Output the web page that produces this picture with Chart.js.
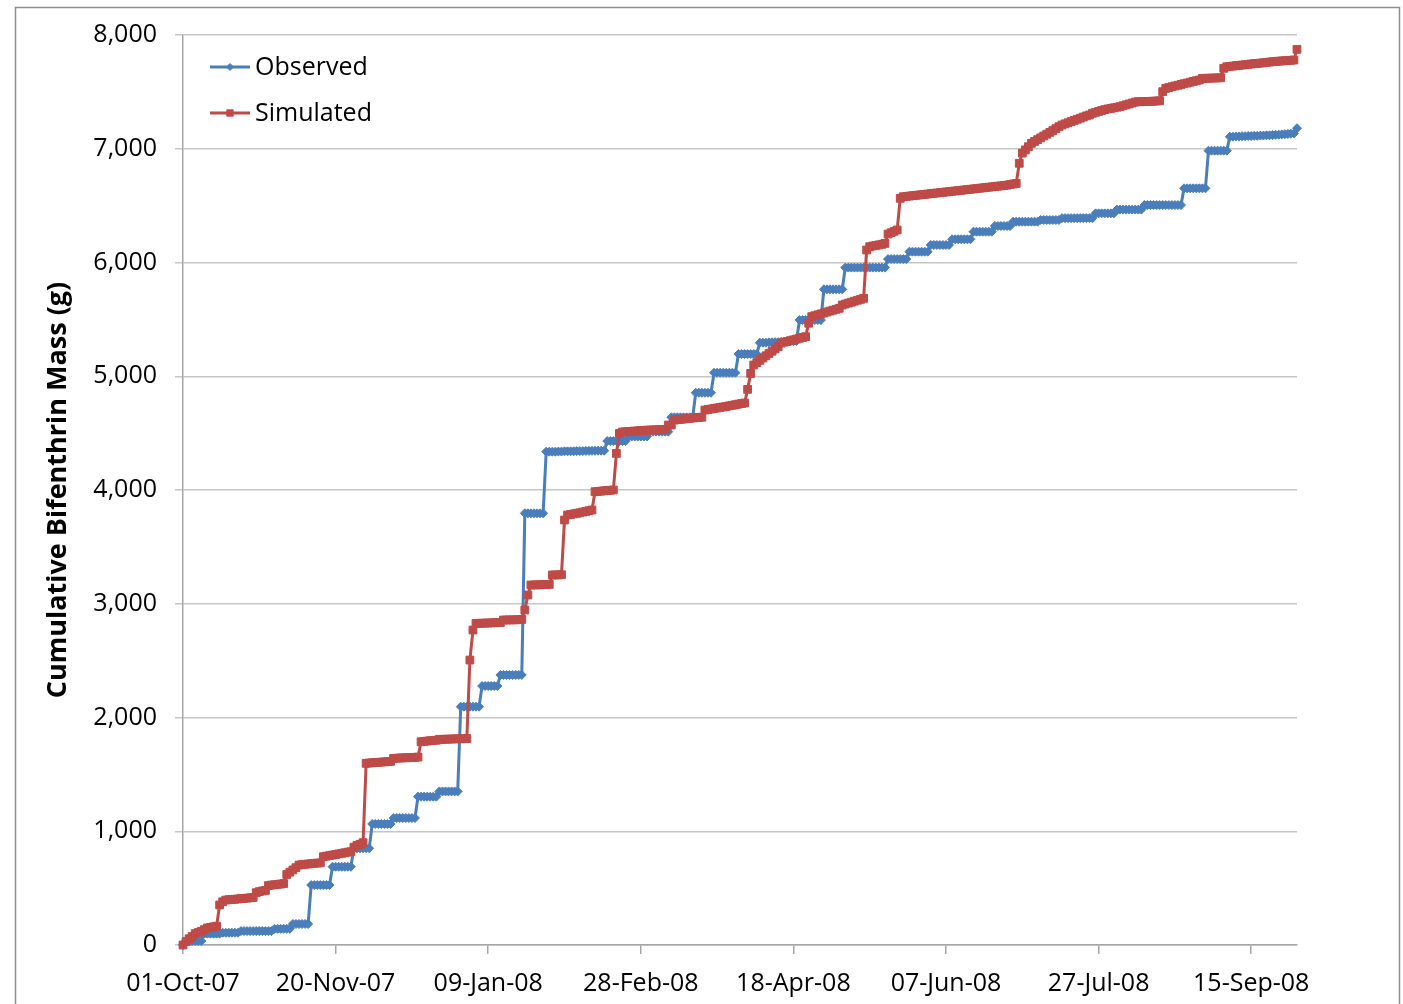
<!DOCTYPE html>
<html>
<head>
<meta charset="utf-8">
<script src="https://cdn.jsdelivr.net/npm/chart.js@4.4.1/dist/chart.umd.min.js"></script>
<style>
  html, body { margin: 0; padding: 0; background: #ffffff; }
  #wrap { width: 1403px; height: 1004px; }
</style>
</head>
<body>
<div id="wrap"><canvas id="c" width="1403" height="1004"></canvas></div>
<script>
// ---- Data (daily values, day 0 = 01-Oct-07) ----
const seriesNames = ['Observed', 'Simulated'];
const xTickLabels = ['01-Oct-07', '20-Nov-07', '09-Jan-08', '28-Feb-08', '18-Apr-08', '07-Jun-08', '27-Jul-08', '15-Sep-08'];
const yTickValues = [0, 1000, 2000, 3000, 4000, 5000, 6000, 7000, 8000];
const yAxisTitle = 'Cumulative Bifenthrin Mass (g)';

const observed = [
  0,35,35,35,35,35,35,100,100,100,
  100,100,100,108,108,108,108,108,108,122,
  122,122,122,122,122,122,122,122,122,122,
  142,142,142,142,142,142,185,185,185,185,
  185,185,527,527,527,527,527,527,527,688,
  688,688,688,688,688,688,850,850,850,850,
  850,850,1064,1064,1064,1064,1064,1064,1064,1116,
  1116,1116,1116,1116,1116,1116,1116,1304,1304,1304,
  1304,1304,1304,1304,1350,1350,1350,1350,1350,1350,
  1350,2095,2095,2095,2095,2095,2095,2095,2277,2277,
  2277,2277,2277,2277,2374,2374,2374,2374,2374,2374,
  2374,2374,3795,3795,3795,3795,3795,3795,3795,4337,
  4337,4337,4337,4338,4338,4340,4340,4340,4340,4342,
  4342,4342,4344,4344,4345,4345,4346,4346,4346,4430,
  4430,4430,4430,4430,4430,4430,4470,4470,4470,4470,
  4470,4470,4470,4513,4513,4513,4513,4513,4513,4513,
  4639,4639,4639,4639,4639,4639,4639,4639,4855,4855,
  4855,4855,4855,4855,5031,5031,5031,5031,5031,5031,
  5031,5031,5195,5195,5195,5195,5195,5195,5195,5295,
  5295,5295,5298,5298,5300,5300,5302,5305,5308,5308,
  5310,5310,5494,5494,5494,5494,5494,5494,5494,5494,
  5764,5764,5764,5764,5764,5764,5764,5955,5955,5955,
  5955,5955,5955,5955,5955,5955,5955,5955,5955,5955,
  5955,6030,6030,6030,6030,6030,6030,6030,6095,6095,
  6095,6095,6095,6095,6095,6154,6154,6154,6154,6154,
  6154,6154,6204,6204,6204,6204,6204,6204,6204,6271,
  6271,6271,6271,6271,6271,6271,6321,6321,6321,6321,
  6321,6321,6359,6359,6359,6359,6359,6359,6359,6359,
  6359,6374,6374,6374,6374,6374,6374,6374,6390,6390,
  6390,6390,6390,6390,6390,6390,6390,6390,6390,6432,
  6432,6432,6432,6432,6432,6432,6465,6465,6465,6465,
  6465,6465,6465,6465,6465,6505,6505,6505,6505,6505,
  6505,6505,6505,6505,6505,6505,6505,6505,6652,6652,
  6652,6652,6652,6652,6652,6652,6983,6983,6983,6983,
  6983,6983,6983,7106,7106,7108,7108,7110,7110,7112,
  7112,7114,7114,7116,7116,7118,7118,7120,7122,7124,
  7126,7128,7130,7132,7135,7180
];

const simulated = [
  0,30,55,75,100,110,120,135,150,155,
  160,165,352,380,395,398,400,402,405,408,
  410,412,415,418,460,469,475,480,522,527,
  530,533,536,540,620,640,660,680,703,706,
  710,712,715,718,720,722,776,781,786,791,
  796,801,806,811,816,820,860,875,885,900,
  1597,1600,1602,1604,1606,1608,1610,1612,1614,1640,
  1642,1644,1645,1646,1647,1648,1650,1652,1787,1790,
  1793,1796,1798,1800,1808,1808,1809,1810,1811,1812,
  1813,1813,1814,1815,2505,2769,2828,2828,2829,2830,
  2831,2832,2833,2834,2835,2857,2857,2858,2858,2859,
  2860,2862,2945,3077,3165,3165,3166,3167,3168,3169,
  3170,3253,3253,3254,3255,3736,3780,3785,3790,3795,
  3800,3806,3812,3818,3824,3985,3988,3990,3993,3996,
  3998,4000,4322,4498,4510,4512,4514,4516,4518,4520,
  4522,4524,4526,4527,4528,4529,4530,4530,4531,4571,
  4571,4615,4618,4621,4624,4627,4630,4633,4636,4638,
  4640,4703,4708,4712,4717,4721,4726,4730,4735,4740,
  4745,4750,4755,4760,4765,4885,5025,5099,5120,5140,
  5160,5180,5200,5220,5240,5260,5292,5300,5306,5313,
  5320,5327,5334,5341,5348,5466,5524,5532,5540,5548,
  5556,5565,5573,5581,5589,5597,5626,5635,5643,5651,
  5660,5668,5676,5685,6110,6139,6145,6150,6155,6160,
  6168,6250,6262,6274,6286,6564,6578,6581,6584,6587,
  6590,6593,6596,6599,6602,6605,6608,6611,6614,6617,
  6620,6623,6626,6629,6632,6635,6638,6641,6644,6647,
  6650,6653,6656,6659,6662,6665,6668,6671,6674,6677,
  6680,6685,6690,6695,6872,6962,6990,7018,7048,7064,
  7080,7096,7112,7128,7144,7160,7177,7194,7209,7219,
  7229,7239,7249,7259,7269,7279,7289,7297,7312,7320,
  7328,7336,7344,7350,7355,7360,7365,7370,7378,7386,
  7394,7402,7410,7414,7414,7415,7416,7417,7418,7420,
  7422,7502,7531,7538,7545,7552,7558,7565,7572,7578,
  7585,7592,7598,7604,7619,7619,7620,7621,7622,7623,
  7624,7707,7721,7724,7727,7730,7733,7736,7739,7742,
  7745,7748,7750,7753,7756,7759,7762,7765,7768,7770,
  7772,7774,7776,7778,7780,7874
];

// ---- Styling ----
const FONT = "'Open Sans', 'Noto Sans', sans-serif";
const BLUE = '#4A7EBB';
const RED = '#BE4B48';
const GRID = '#C6C6C6';
const AXIS = '#A6A6A6';

const toPoints = arr => arr.map((v, i) => ({ x: i, y: v }));

const framePlugin = {
  id: 'frame',
  beforeDraw(chart) {
    const ctx = chart.ctx;
    ctx.save();
    ctx.strokeStyle = '#8E8E8E';
    ctx.lineWidth = 1.5;
    ctx.strokeRect(15.5, 7.5, 1384, 1100);
    ctx.restore();
  }
};

const legendPlugin = {
  id: 'inlineLegend',
  afterDraw(chart) {
    const ctx = chart.ctx;
    ctx.save();
    chart.data.datasets.forEach((ds, i) => {
      const y = 67 + i * 46;
      ctx.strokeStyle = ds.borderColor;
      ctx.lineWidth = 3;
      ctx.beginPath();
      ctx.moveTo(210, y);
      ctx.lineTo(250, y);
      ctx.stroke();
      ctx.fillStyle = ds.pointBackgroundColor;
      ctx.strokeStyle = ds.pointBorderColor;
      ctx.lineWidth = 1;
      Chart.helpers.drawPoint(ctx, { pointStyle: ds.pointStyle, radius: ds.pointRadius - 1, rotation: 0, borderWidth: 1 }, 230, y);
      ctx.fillStyle = '#000';
      ctx.font = "25px " + FONT;
      ctx.textBaseline = 'middle';
      ctx.textAlign = 'left';
      ctx.fillText(ds.label, 255, y + 1);
    });
    ctx.restore();
  }
};

new Chart(document.getElementById('c'), {
  type: 'line',
  data: {
    datasets: [
      {
        label: seriesNames[0],
        data: toPoints(observed),
        borderColor: BLUE,
        backgroundColor: BLUE,
        pointBackgroundColor: BLUE,
        pointBorderColor: BLUE,
        borderWidth: 3,
        pointStyle: 'rectRot',
        pointRadius: 4.5,
        pointBorderWidth: 1,
        tension: 0,
        order: 1,
        clip: 10
      },
      {
        label: seriesNames[1],
        data: toPoints(simulated),
        borderColor: RED,
        backgroundColor: RED,
        pointBackgroundColor: RED,
        pointBorderColor: RED,
        borderWidth: 3,
        pointStyle: 'rect',
        pointRadius: 5.5,
        pointBorderWidth: 1,
        tension: 0,
        order: 0,
        clip: 10
      }
    ]
  },
  options: {
    responsive: false,
    devicePixelRatio: 1,
    animation: false,
    events: [],
    layout: { padding: { left: 0, top: 35, right: 106, bottom: 0 } },
    plugins: { legend: { display: false }, tooltip: { enabled: false }, title: { display: false } },
    scales: {
      x: {
        type: 'linear',
        min: 0,
        max: 365,
        afterFit: s => { s.height = 59; },
        ticks: {
          stepSize: 50,
          includeBounds: false,
          autoSkip: false,
          maxRotation: 0,
          padding: 15,
          color: '#000',
          font: { family: FONT, size: 25 },
          callback: v => xTickLabels[v / 50] ?? ''
        },
        grid: { drawOnChartArea: false, drawTicks: true, tickLength: 9, color: AXIS, lineWidth: 1.5 },
        border: { display: true, color: AXIS, width: 1.5 }
      },
      y: {
        type: 'linear',
        min: 0,
        max: 8000,
        afterFit: s => { s.width = 183; },
        afterBuildTicks: s => { s.ticks = yTickValues.map(v => ({ value: v })); },
        ticks: {
          padding: 18,
          color: '#000',
          font: { family: FONT, size: 25 },
          callback: v => v.toLocaleString('en-US')
        },
        grid: { color: GRID, lineWidth: 1.5, drawTicks: true, tickLength: 8 },
        border: { display: true, color: AXIS, width: 1.5 },
        title: {
          display: true,
          text: yAxisTitle,
          color: '#000',
          font: { family: FONT, size: 27, weight: 'bold' },
          padding: { top: 42, bottom: 0 }
        }
      }
    }
  },
  plugins: [framePlugin, legendPlugin]
});
</script>
</body>
</html>
